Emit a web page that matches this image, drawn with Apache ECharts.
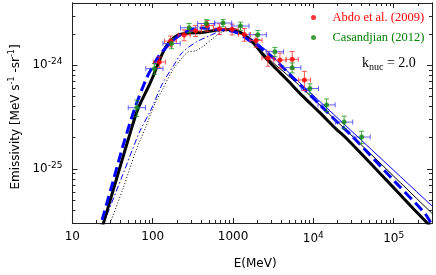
<!DOCTYPE html>
<html><head><meta charset="utf-8">
<script src="https://cdn.jsdelivr.net/npm/echarts@6/dist/echarts.min.js"></script>
<style>html,body{margin:0;padding:0;background:#fff}#c{width:436px;height:275px}</style>
</head><body><div id="c"></div>
<script>
// ---- axis ticks ----
const xMin = 10, xMax = 3e5, yMin = 3e-26, yMax = 4e-24;
const xTicks = [10, 100, 1000, 1e4, 1e5];
const xTickLabels = ['10', '100', '1000', '10{sup|4}', '10{sup|5}'];
const xMinorTicks = [20,30,40,50,60,70,80,90,200,300,400,500,600,700,800,900,2000,3000,4000,5000,6000,7000,8000,9000,2e4,3e4,4e4,5e4,6e4,7e4,8e4,9e4,2e5,3e5];
const yTicks = [1e-25, 1e-24];
const yTickLabels = ['10{sup|-25}', '10{sup|-24}'];
const yMinorTicks = [3e-26,4e-26,5e-26,6e-26,7e-26,8e-26,9e-26,2e-25,3e-25,4e-25,5e-25,6e-25,7e-25,8e-25,9e-25,2e-24,3e-24,4e-24];

// ---- data: Abdo et al. (2009) ----
const abdoE = [121, 167, 246, 342, 478, 677, 972, 1387, 1934, 2721, 3837, 5458, 7745];
const abdoV = [1.076e-24, 1.714e-24, 1.964e-24, 2.157e-24, 2.424e-24, 2.254e-24, 2.234e-24, 1.987e-24, 1.74e-24, 1.175e-24, 1.125e-24, 1.142e-24, 7.22e-25];
const abdoErr = [1.29e-25, 2.06e-25, 2.36e-25, 2.59e-25, 2.91e-25, 2.70e-25, 2.68e-25, 2.78e-25, 2.44e-25, 1.94e-25, 1.86e-25, 2.17e-25, 1.52e-25];
const abdoEmin = [101.8, 140.5, 206.9, 287.6, 402, 569.4, 817.5, 1166.5, 1626.6, 2288.5, 3227, 4590, 6514];
const abdoEmax = [143.9, 198.6, 292.5, 406.6, 568.3, 805, 1155.7, 1649, 2299.5, 3235, 4562, 6490, 9209];

// ---- data: Casandjian (2012) ----
const casE = [63.5, 105, 171.7, 284, 464, 752, 1237, 2035, 3319, 5458, 9057, 14600, 24150, 39900];
const casV = [3.90e-25, 9.29e-25, 1.627e-24, 2.304e-24, 2.534e-24, 2.563e-24, 2.398e-24, 1.973e-24, 1.354e-24, 9.50e-25, 5.97e-25, 4.15e-25, 2.83e-25, 2.03e-25];
const casErr = [7.0e-26, 1.11e-25, 1.79e-25, 2.30e-25, 2.28e-25, 2.05e-25, 2.16e-25, 1.97e-25, 1.35e-25, 1.05e-25, 6.6e-26, 5.8e-26, 4.0e-26, 2.8e-26];
const casEmin = [49.6, 82.0, 134.1, 221.9, 362.5, 587.5, 966.4, 1590, 2593, 4264, 7076, 11406, 18867, 31172];
const casEmax = [81.3, 134.4, 219.8, 363.5, 593.9, 962.6, 1583, 2605, 4248, 6986, 11593, 18688, 30912, 51072];

// ---- model curves ----
const blackE = [22.2, 24.1, 34.0, 49.8, 65.3, 86.8, 100, 125.6, 144.7, 166.8, 209.4, 278.3, 414.2, 599.5, 796.5, 1058, 1407, 1817, 2346, 3117, 4642, 7315, 11860, 19230, 26290, 79640, 162100, 270500, 330000];
const blackV = [2.33e-26, 2.91e-26, 7.18e-26, 1.943e-25, 3.775e-25, 6.01e-25, 7.67e-25, 1.194e-24, 1.489e-24, 1.720e-24, 1.965e-24, 2.054e-24, 2.077e-24, 2.186e-24, 2.220e-24, 2.195e-24, 1.943e-24, 1.627e-24, 1.275e-24, 1.0e-24, 7.33e-25, 5.07e-25, 3.532e-25, 2.424e-25, 1.943e-25, 7.92e-26, 4.41e-26, 2.91e-26, 2.43e-26];
const blueE = [20.9, 24.1, 32.1, 42.6, 59.4, 82.7, 100, 121, 168.2, 234.6, 311.8, 414.2, 599.5, 843.4, 1176, 1562, 2077, 2555, 3145, 4603, 7377, 11860, 19070, 30570, 104900, 246200, 294500, 349300];
const blueV = [2.32e-26, 3.455e-26, 7.58e-26, 1.664e-25, 3.775e-25, 7.33e-25, 9.78e-25, 1.248e-24, 1.664e-24, 2.031e-24, 2.220e-24, 2.295e-24, 2.244e-24, 2.195e-24, 2.031e-24, 1.758e-24, 1.533e-24, 1.348e-24, 1.186e-24, 8.82e-25, 6.10e-25, 4.217e-25, 2.913e-25, 2.062e-25, 7.45e-26, 3.69e-26, 2.96e-26, 2.535e-26];
const thinBlueLowE = [24.1, 26.5, 42.6, 68.5, 94.5, 132.9, 176.6, 234.6, 359.4, 505.3, 671.7, 918.3];
const thinBlueLowV = [2.77e-26, 3.455e-26, 8.85e-26, 2.269e-25, 3.69e-25, 6.71e-25, 9.57e-25, 1.334e-24, 1.701e-24, 1.922e-24, 2.123e-24, 2.195e-24];
const thinBlueHighE = [918.3, 1291, 1817, 2346, 3117, 4642, 7315, 294500, 349300];
const thinBlueHighV = [2.195e-24, 2.031e-24, 1.739e-24, 1.489e-24, 1.220e-24, 8.95e-25, 6.42e-25, 4.44e-26, 3.945e-26];
const thinBlackHighE = [1058, 1407, 1817, 2346, 3117, 4642, 7315, 294500, 349300];
const thinBlackHighV = [2.195e-24, 1.943e-24, 1.645e-24, 1.334e-24, 1.069e-24, 8.19e-25, 6.01e-25, 3.775e-26, 3.305e-26];
const dottedE = [27.0, 29.2, 42.6, 61.7, 81.9, 105.8, 132.9, 176.6, 234.6, 278.3, 339.6, 414.2, 550.6, 731.6, 972];
const dottedV = [2.48e-26, 2.925e-26, 6.42e-26, 1.489e-25, 2.534e-25, 4.217e-25, 5.875e-25, 8.95e-25, 1.194e-24, 1.348e-24, 1.378e-24, 1.506e-24, 1.798e-24, 2.10e-24, 2.195e-24];

// ---- helpers ----
// ECharts' log scale rounds very small values, so the y values are handed
// to the library in units of 1e-24 (labels still show the true powers).
const YU = 1e-24;
const sy = v => v / YU;
const pairs = (a, b) => a.map((v, i) => [v, sy(b[i])]);
function pickLabel(ticks, labels, v) {
  let best = 0, bd = Infinity;
  ticks.forEach((t, i) => { const d = Math.abs(Math.log10(t) - Math.log10(v)); if (d < bd) { bd = d; best = i; } });
  return labels[best];
}
const AX = '#222';
const supRich = { sup: { fontSize: 9, padding: [0, 0, 7, 0], fontFamily: 'DejaVu Sans', color: '#000' } };

function xAx(pos, ticks, len, labels) {
  return {
    type: 'log', logBase: 10, min: xMin, max: xMax, position: pos, gridIndex: 0,
    axisLine: { show: true, lineStyle: { color: AX, width: 1 } },
    axisTick: { show: true, inside: true, length: len, customValues: ticks, lineStyle: { color: AX, width: 1 } },
    axisLabel: labels ? {
      show: true, customValues: ticks, margin: 8, color: '#000', fontFamily: 'DejaVu Sans', fontSize: 12,
      formatter: v => pickLabel(xTicks, xTickLabels, v), rich: supRich
    } : { show: false },
    splitLine: { show: false }, minorTick: { show: false }, minorSplitLine: { show: false }
  };
}
function yAx(pos, ticks, len, labels) {
  const st = ticks.map(sy);
  return {
    type: 'log', logBase: 10, min: sy(yMin), max: sy(yMax), position: pos, gridIndex: 0,
    axisLine: { show: true, lineStyle: { color: AX, width: 1 } },
    axisTick: { show: true, inside: true, length: len, customValues: st, lineStyle: { color: AX, width: 1 } },
    axisLabel: labels ? {
      show: true, customValues: st, margin: 10, color: '#000', fontFamily: 'DejaVu Sans', fontSize: 12,
      formatter: v => pickLabel(yTicks, yTickLabels, v * YU), rich: supRich
    } : { show: false },
    splitLine: { show: false }, minorTick: { show: false }, minorSplitLine: { show: false }
  };
}

const xAxes = [xAx('bottom', xTicks, 5, true), xAx('bottom', xMinorTicks, 3, false), xAx('top', xTicks, 5, false), xAx('top', xMinorTicks, 3, false)];
Object.assign(xAxes[0], { name: 'E(MeV)', nameLocation: 'middle', nameGap: 35, nameTextStyle: { fontFamily: 'DejaVu Sans', fontSize: 12, color: '#000', padding: [0, 0, 0, 6] } });
const yAxes = [yAx('left', yTicks, 5, true), yAx('left', yMinorTicks, 3, false), yAx('right', yTicks, 5, false), yAx('right', yMinorTicks, 3, false)];
Object.assign(yAxes[0], {
  name: 'Emissivity [MeV s{sup|-1} -sr{sup|-1}]', nameLocation: 'middle', nameRotate: 90, nameGap: 48,
  nameTextStyle: { fontFamily: 'DejaVu Sans', fontSize: 12, color: '#000', padding: [0, 8, 0, 0], rich: { sup: { fontSize: 8, padding: [0, 0, 7, 0], fontFamily: 'DejaVu Sans', color: '#000' } } }
});

function curve(name, E, V, color, width, type, z) {
  return {
    name, type: 'line', xAxisIndex: 0, yAxisIndex: 0, data: pairs(E, V), showSymbol: false, symbol: 'none',
    smooth: 0.3, clip: true, z: z || 2, silent: true,
    lineStyle: { color, width, type: type || 'solid', cap: 'butt' }
  };
}

function errBars(name, E, V, Err, Emin, Emax, vColor, hColor) {
  return {
    name, type: 'custom', xAxisIndex: 0, yAxisIndex: 0, clip: true, z: 4, silent: true,
    data: E.map((e, i) => [e, sy(V[i]), sy(V[i] - Err[i]), sy(V[i] + Err[i]), Emin[i], Emax[i]]),
    encode: { x: [0, 4, 5], y: [1, 2, 3] },
    renderItem: (params, api) => {
      const e = api.value(0), v = api.value(1);
      const p = api.coord([e, v]);
      const lo = api.coord([e, api.value(2)]);
      const hi = api.coord([e, api.value(3)]);
      const l = api.coord([api.value(4), v]);
      const r = api.coord([api.value(5), v]);
      const c = 2.5;
      const vs = { stroke: vColor, lineWidth: 1, opacity: 0.8 };
      const hs = { stroke: hColor, lineWidth: 1, opacity: 0.8 };
      return {
        type: 'group', children: [
          { type: 'line', shape: { x1: l[0], y1: p[1], x2: r[0], y2: p[1] }, style: hs },
          { type: 'line', shape: { x1: l[0], y1: p[1] - c, x2: l[0], y2: p[1] + c }, style: hs },
          { type: 'line', shape: { x1: r[0], y1: p[1] - c, x2: r[0], y2: p[1] + c }, style: hs },
          { type: 'line', shape: { x1: p[0], y1: lo[1], x2: p[0], y2: hi[1] }, style: vs },
          { type: 'line', shape: { x1: p[0] - c, y1: lo[1], x2: p[0] + c, y2: lo[1] }, style: vs },
          { type: 'line', shape: { x1: p[0] - c, y1: hi[1], x2: p[0] + c, y2: hi[1] }, style: vs }
        ]
      };
    }
  };
}

const RED = '#ff0000', GREEN = '#118811', HBLUE = '#3c3cff';
const option = {
  animation: false,
  backgroundColor: '#fff',
  grid: { left: 69, right: 4, top: 3, bottom: 49, containLabel: false },
  xAxis: xAxes,
  yAxis: yAxes,
  legend: {
    orient: 'vertical', left: 306, top: 6, itemGap: 7, itemWidth: 10, itemHeight: 5, selectedMode: false,
    data: [
      { name: 'Abdo et al. (2009)', icon: 'circle', textStyle: { color: RED } },
      { name: 'Casandjian (2012)', icon: 'circle', textStyle: { color: '#008000' } }
    ],
    textStyle: { fontFamily: 'Liberation Serif', fontSize: 12.5, padding: [0, 0, 0, 9] }
  },
  graphic: [{
    type: 'text', left: 362, top: 56, z: 10,
    style: {
      text: 'k{sub|nuc} = 2.0', fill: '#000', font: '14px "Liberation Serif"',
      rich: { sub: { fontSize: 10, fontFamily: 'Liberation Serif', padding: [8, 0, 0, 0], fill: '#000' } }
    }
  }],
  series: [
    curve('dotted', dottedE, dottedV, '#000', 1, [1, 2], 2),
    curve('thinBlueLow', thinBlueLowE, thinBlueLowV, '#0000ff', 1, [6, 2.5, 1.5, 2.5], 2),
    curve('thinBlueHigh', thinBlueHighE, thinBlueHighV, '#0000ff', 1, 'solid', 2),
    curve('thinBlackHigh', thinBlackHighE, thinBlackHighV, '#000', 1, 'solid', 2),
    curve('blackMain', blackE, blackV, '#000', 3, 'solid', 3),
    curve('blueDashed', blueE, blueV, '#0000ff', 3, [10, 5], 3),
    errBars('abdoErr', abdoE, abdoV, abdoErr, abdoEmin, abdoEmax, '#ff3030', '#ff3030'),
    errBars('casErr', casE, casV, casErr, casEmin, casEmax, '#1a961a', HBLUE),
    { name: 'Abdo et al. (2009)', type: 'scatter', xAxisIndex: 0, yAxisIndex: 0, data: pairs(abdoE, abdoV), symbol: 'circle', symbolSize: 5, itemStyle: { color: RED }, z: 5, clip: true },
    { name: 'Casandjian (2012)', type: 'scatter', xAxisIndex: 0, yAxisIndex: 0, data: pairs(casE, casV), symbol: 'circle', symbolSize: 5, itemStyle: { color: GREEN }, z: 5, clip: true }
  ]
};
const chart = echarts.init(document.getElementById('c'), null, { renderer: 'canvas' });
chart.setOption(option);
</script></body></html>
